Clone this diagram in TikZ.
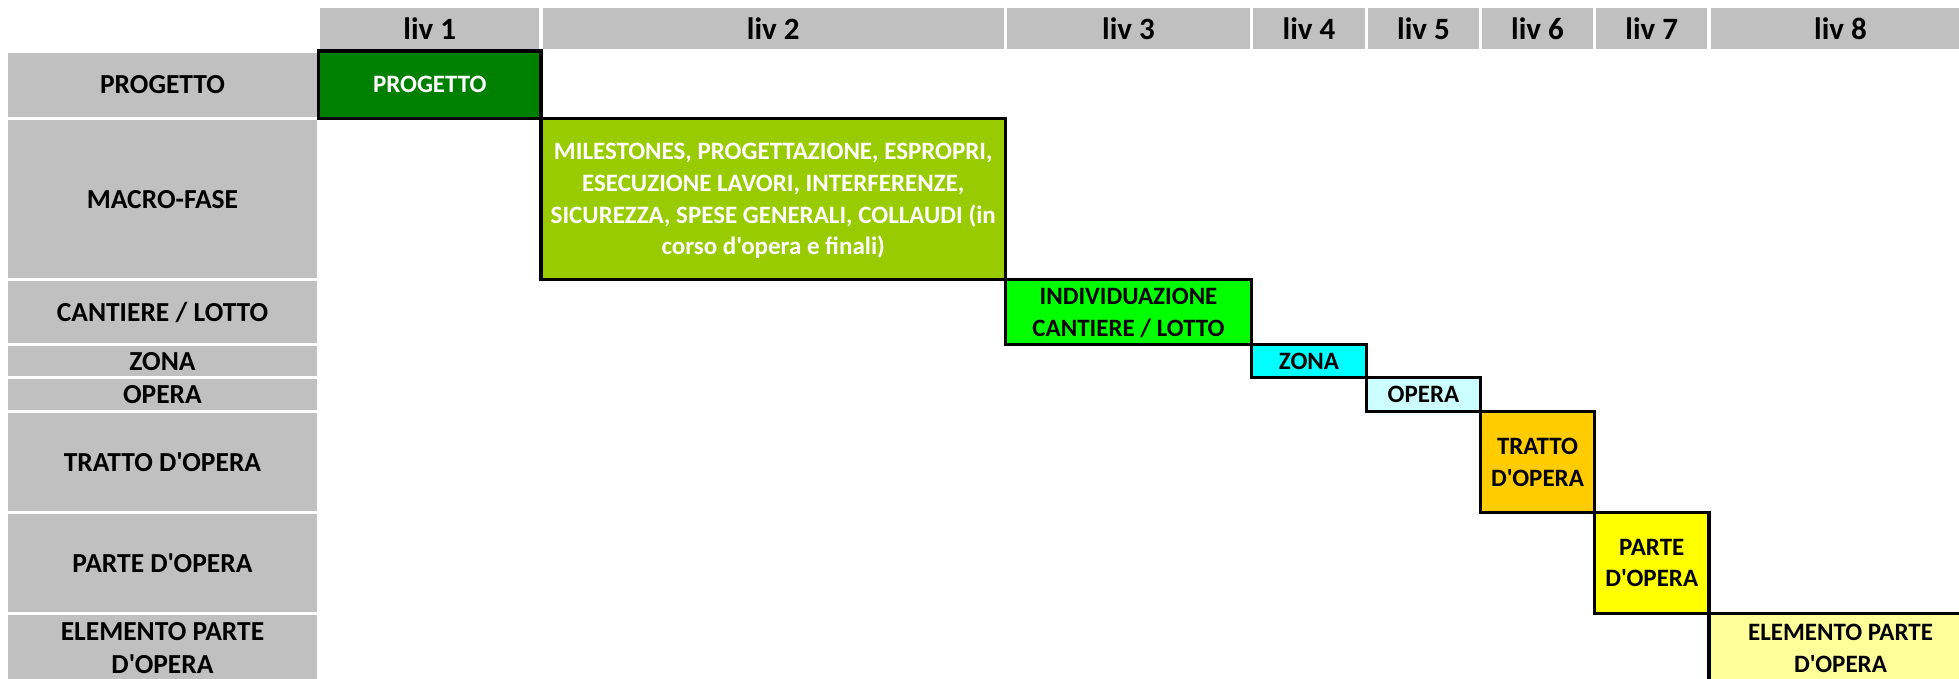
\documentclass[tikz,border=0pt]{standalone}
\usepackage{fontspec}
\setmainfont{Carlito}[Ligatures=TeXOff]
\definecolor{cellgray}{HTML}{C0C0C0}
\definecolor{lvA}{HTML}{008000}
\definecolor{lvB}{HTML}{99CC00}
\definecolor{lvC}{HTML}{00FF00}
\definecolor{lvD}{HTML}{00FFFF}
\definecolor{lvE}{HTML}{CCFFFF}
\definecolor{lvF}{HTML}{FFCC00}
\definecolor{lvG}{HTML}{FFFF00}
\definecolor{lvH}{HTML}{FFFF99}
\newcommand\mkcell[7]{%
  \node[#6, minimum width={(#4-#2)*1pt}, minimum height={(#5-#3)*1pt}] (#1) at ({(#2+#4)/2},{(#3+#5)/2}) {#7};}
\begin{document}
\begin{tikzpicture}[x=1pt,y=-1pt,
  graycell/.style={fill=cellgray, inner sep=0pt, outer sep=0pt},
  hdr/.style={graycell, font=\fontsize{31}{37}\selectfont\bfseries, text depth=0pt},
  lbl/.style={graycell, font=\fontsize{27.5}{33}\selectfont\bfseries, align=center, text depth=0pt},
  level/.style={draw=black, line width=3.5pt, inner sep=0pt, outer sep=0pt,
    font=\fontsize{25}{31.7}\selectfont\bfseries, align=center, text depth=0pt},
]
\useasboundingbox (0,0) rectangle (1959,678);
\clip (0,0) rectangle (1959,678);
% header row
\mkcell{h1}{320.1}{8.1}{539.4}{49.4}{hdr}{liv 1}
\mkcell{h2}{542.6}{8.1}{1003.9}{49.4}{hdr}{liv 2}
\mkcell{h3}{1007.1}{8.1}{1249.9}{49.4}{hdr}{liv 3}
\mkcell{h4}{1253.1}{8.1}{1364.9}{49.4}{hdr}{liv 4}
\mkcell{h5}{1368.1}{8.1}{1478.9}{49.4}{hdr}{liv 5}
\mkcell{h6}{1482.1}{8.1}{1592.9}{49.4}{hdr}{liv 6}
\mkcell{h7}{1596.1}{8.1}{1707.4}{49.4}{hdr}{liv 7}
\mkcell{h8}{1710.6}{8.1}{1970.4}{49.4}{hdr}{liv 8}
% left column
\mkcell{r1}{8.1}{52.6}{316.9}{116.9}{lbl}{PROGETTO}
\mkcell{r2}{8.1}{120.1}{316.9}{277.9}{lbl}{MACRO-FASE}
\mkcell{r3}{8.1}{281.1}{316.9}{342.9}{lbl}{CANTIERE / LOTTO}
\mkcell{r4}{8.1}{346.1}{316.9}{375.9}{lbl}{ZONA}
\mkcell{r5}{8.1}{379.1}{316.9}{409.9}{lbl}{OPERA}
\mkcell{r6}{8.1}{413.1}{316.9}{510.9}{lbl}{TRATTO D'OPERA}
\mkcell{r7}{8.1}{514.1}{316.9}{611.9}{lbl}{PARTE D'OPERA}
\mkcell{r8}{8.1}{615.1}{316.9}{680.9}{lbl}{ELEMENTO PARTE\\D'OPERA}
% level boxes
\mkcell{b1}{318.5}{51}{541}{118.5}{level, fill=lvA, text=white}{PROGETTO}
\mkcell{b2}{541}{118.5}{1005.5}{279.5}{level, fill=lvB, text=white}{MILESTONES, PROGETTAZIONE, ESPROPRI,\\ESECUZIONE LAVORI, INTERFERENZE,\\SICUREZZA, SPESE GENERALI, COLLAUDI (in\\corso d'opera e finali)}
\mkcell{b3}{1005.5}{279.5}{1251.5}{344.5}{level, fill=lvC}{INDIVIDUAZIONE\\CANTIERE / LOTTO}
\mkcell{b4}{1251.5}{344.5}{1366.5}{377.5}{level, fill=lvD}{ZONA}
\mkcell{b5}{1366.5}{377.5}{1480.5}{411.5}{level, fill=lvE}{OPERA}
\mkcell{b6}{1480.5}{411.5}{1594.5}{512.5}{level, fill=lvF}{TRATTO\\D'OPERA}
\mkcell{b7}{1594.5}{512.5}{1709}{613.5}{level, fill=lvG}{PARTE\\D'OPERA}
\mkcell{b8}{1709}{613.5}{1972}{682.5}{level, fill=lvH}{ELEMENTO PARTE\\D'OPERA}
\end{tikzpicture}
\end{document}
